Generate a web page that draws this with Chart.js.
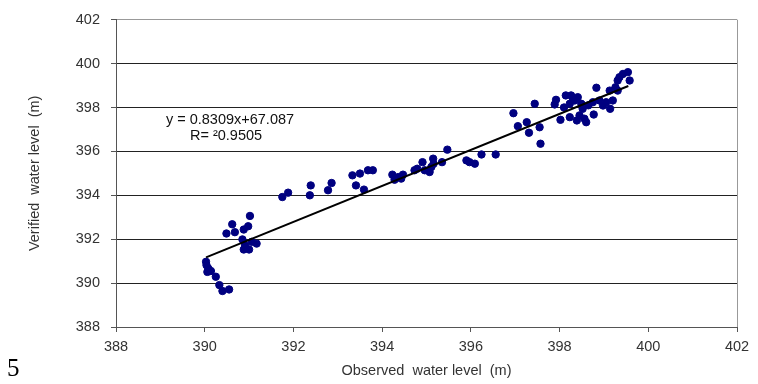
<!DOCTYPE html>
<html>
<head>
<meta charset="utf-8">
<script src="https://cdn.jsdelivr.net/npm/chart.js@4/dist/chart.umd.min.js"></script>
<style>
  html, body { margin: 0; padding: 0; background: #fff; }
  #wrap { position: relative; width: 758px; height: 384px; }
  #fig { position: absolute; left: 7px; top: 354px; font-family: "Liberation Serif", serif; font-size: 25px; color: #000; }
</style>
</head>
<body>
<div id="wrap">
  <canvas id="chart" width="758" height="384"></canvas>
  <div id="fig">5</div>
</div>
<script>
// observed vs verified water level (m)
var observed = [
  390.03, 390.04, 390.08, 390.06, 390.14, 390.25, 390.33, 390.40, 390.55,
  390.49, 390.62, 390.68, 390.88, 390.98, 391.02, 390.85, 390.91, 390.88, 391.00, 391.06, 391.17,
  391.75, 391.88, 392.37, 392.39, 392.78, 392.86, 393.33, 393.50, 393.41, 393.59, 393.68, 393.79,
  394.23, 394.28, 394.36, 394.47, 394.43, 394.73, 394.79, 394.91, 394.96, 395.07, 395.11, 395.15,
  395.16, 395.35, 395.47, 395.90, 395.97, 396.09, 396.24, 396.56,
  396.96, 397.06, 397.26, 397.31, 397.55, 397.57, 397.44, 397.89, 397.92, 398.02, 398.14, 398.23,
  398.26, 398.34, 398.41, 398.23, 398.39, 398.45, 398.52, 398.56, 398.60, 398.49, 398.77, 398.75,
  398.83, 398.90, 398.98, 399.05, 399.14, 399.20, 399.13, 399.26, 399.31, 399.35, 399.43, 399.54,
  399.58, 399.31, 398.30, 398.10, 398.65
];
var verified = [
  390.97, 390.82, 390.67, 390.51, 390.55, 390.29, 389.91, 389.64, 389.71,
  392.26, 392.68, 392.32, 392.44, 392.59, 393.06, 391.99, 391.73, 391.53, 391.53, 391.88, 391.80,
  393.92, 394.12, 394.00, 394.45, 394.23, 394.56, 394.91, 394.99, 394.45, 394.26, 395.14, 395.14,
  394.94, 394.71, 394.83, 394.94, 394.76, 395.14, 395.21, 395.51, 395.14, 395.06, 395.29, 395.67,
  395.44, 395.51, 396.08, 395.59, 395.51, 395.44, 395.86, 395.86,
  397.74, 397.15, 397.33, 396.85, 397.10, 396.35, 398.17, 398.14, 398.35, 397.44, 398.55, 398.17,
  398.55, 398.32, 398.47, 397.56, 397.41, 397.64, 397.94, 397.49, 397.33, 398.17, 397.68, 398.24,
  398.90, 398.32, 398.09, 398.24, 397.94, 398.32, 398.77, 398.92, 399.23, 399.38, 399.53, 399.61,
  399.23, 398.77, 398.40, 398.00, 398.10
];
// trend line ends
var trendX = [390.03, 399.55];
var trendY = [391.17, 398.98];

var ticks = [388, 390, 392, 394, 396, 398, 400, 402];
var eqText = ["y = 0.8309x+67.087", "R= \u00B20.9505"];

var points = observed.map(function (x, i) { return { x: x, y: verified[i] }; });
var trend = trendX.map(function (x, i) { return { x: x, y: trendY[i] }; });

var FONT = "'Liberation Sans', Arial, sans-serif";

var eqPlugin = {
  id: 'eq',
  afterDraw: function (chart) {
    var c = chart.ctx;
    c.save();
    c.font = "14.5px " + FONT;
    c.fillStyle = "#111";
    c.textAlign = "center";
    c.textBaseline = "middle";
    c.fillText(eqText[0], 230, 120);
    c.fillText(eqText[1], 226, 136);
    c.restore();
  }
};

new Chart(document.getElementById("chart"), {
  type: 'scatter',
  data: {
    datasets: [{
      label: 'data',
      data: points,
      backgroundColor: '#000080',
      borderColor: '#000080',
      pointRadius: 3.7,
      pointHoverRadius: 3.7,
      order: 2
    }, {
      type: 'line',
      label: 'trend',
      data: trend,
      borderColor: '#000',
      borderWidth: 2,
      pointRadius: 0,
      fill: false,
      order: 1
    }]
  },
  options: {
    responsive: false,
    animation: false,
    layout: { padding: { top: 19, right: 21, left: 0, bottom: 0 } },
    plugins: { legend: { display: false }, tooltip: { enabled: false } },
    scales: {
      x: {
        type: 'linear',
        min: 388, max: 402,
        afterBuildTicks: function (s) { s.ticks = ticks.map(function (v) { return { value: v }; }); },
        afterFit: function (s) { s.height = 57; },
        border: { color: '#555', width: 1 },
        grid: {
          drawOnChartArea: true,
          color: function (ctx) { return ctx.tick && ctx.tick.value === 402 ? '#999' : 'rgba(0,0,0,0)'; },
          tickColor: '#555',
          tickLength: 5
        },
        ticks: { color: '#333', font: { size: 14.5, family: FONT }, padding: 6, maxRotation: 0 },
        title: { display: true, text: 'Observed  water level  (m)', color: '#333', font: { size: 14.5, family: FONT }, padding: { top: 2 } }
      },
      y: {
        min: 388, max: 402,
        afterBuildTicks: function (s) { s.ticks = ticks.map(function (v) { return { value: v }; }); },
        afterFit: function (s) { s.width = 116; },
        border: { color: '#555', width: 1 },
        grid: {
          color: function (ctx) { return ctx.tick && ctx.tick.value === 402 ? '#999' : '#222'; },
          tickColor: '#555',
          tickLength: 5
        },
        ticks: { color: '#333', font: { size: 14.5, family: FONT }, padding: 11 },
        title: { display: true, text: 'Verified  water level  (m)', color: '#333', font: { size: 14.5, family: FONT }, padding: { top: 26, bottom: 0 } }
      }
    }
  },
  plugins: [eqPlugin]
});
</script>
</body>
</html>
